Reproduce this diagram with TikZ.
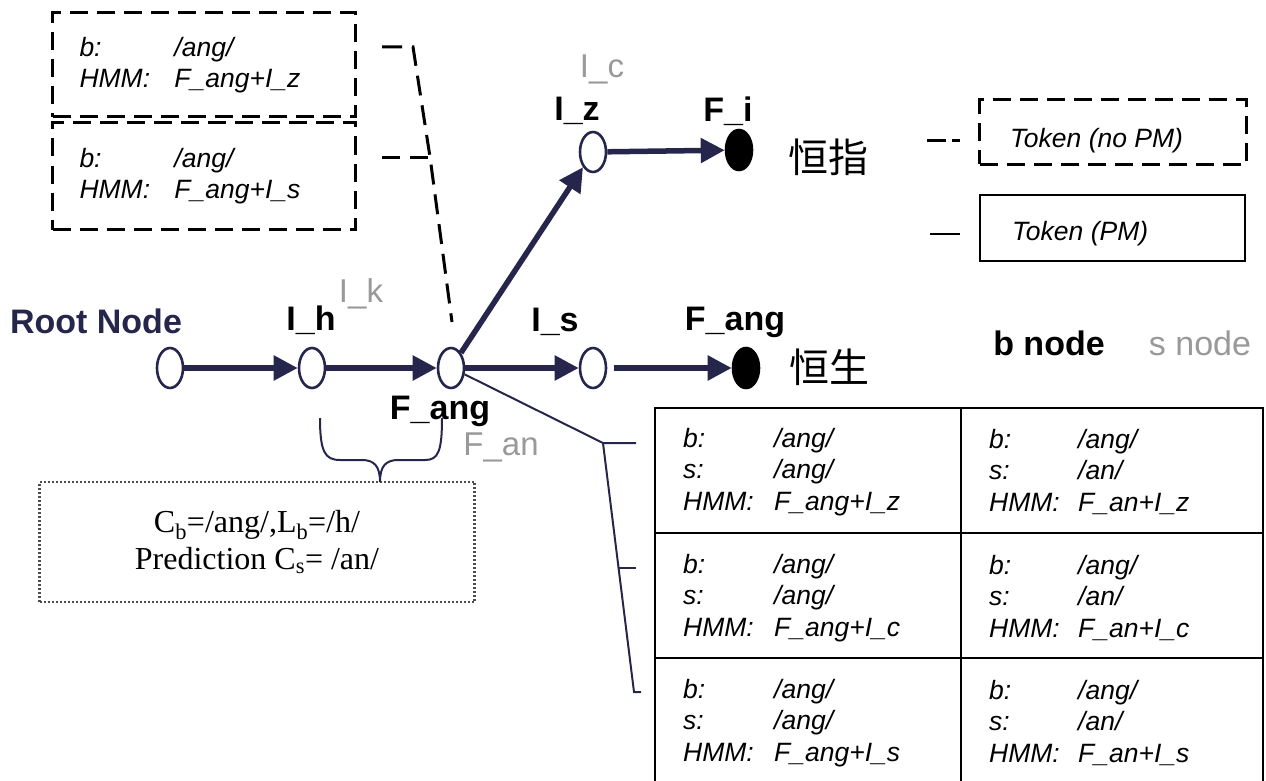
\documentclass[tikz,border=0pt]{standalone}
\usepackage{fontspec}
\setmainfont{Liberation Serif}
\setsansfont{Liberation Sans}
\newfontfamily\cjk{Noto Sans CJK SC}
\usepackage{tikz}
\usetikzlibrary{arrows.meta,shapes.geometric}
\definecolor{ink}{rgb}{0.15,0.15,0.3}
\definecolor{faint}{gray}{0.6}
\newcommand{\tokrow}[3][91pt]{\makebox[#1][l]{#2}#3}

\begin{document}
\begin{tikzpicture}[x=1pt,y=-1pt,
state/.style={ellipse,draw=ink,line width=2.6pt,minimum width=26pt,minimum height=40pt,inner sep=0pt},
final/.style={state,draw=black,fill=black},
blab/.style={font=\sffamily\bfseries\fontsize{34}{40}\selectfont,inner sep=0pt},
glab/.style={font=\sffamily\fontsize{33}{40}\selectfont,text=faint,inner sep=0pt},
walk/.style={draw=ink,line width=5.5pt,-{Triangle[length=24pt,width=24pt]}},
tok/.style={font=\sffamily\itshape\fontsize{26.5}{31.5}\selectfont,align=left,inner sep=0pt},
nopm/.style={draw,line width=3pt,dash pattern=on 18pt off 9pt},
hanzi/.style={font=\cjk\fontsize{40}{40}\selectfont,inner sep=0pt}]
\useasboundingbox (0,0) rectangle (1266,781);
% lattice
\node[state] (root) at (170,368) {};
\node[state] (ih) at (312,368) {};
\node[state] (fang) at (451,368) {};
\node[state] (is) at (593,368) {};
\node[state] (iz) at (593,152) {};
\node[final] (fi) at (739,150) {};
\node[final] (fend) at (746,368) {};
\draw[walk] (root) -- (ih);
\draw[walk] (ih) -- (fang);
\draw[walk] (fang) -- (is);
\draw[walk,shorten <=7pt] (is) -- (fend);
\draw[walk] (fang) -- (iz);
\draw[walk] (iz) -- (fi);
% labels
\node[blab,text=ink] (rootlab) at (96,321) {Root Node};
\node[blab] (ihlab) at (311,320) {I\_h};
\node[glab] (iklab) at (361,294) {I\_k};
\node[blab] (fanglab) at (440,411) {F\_ang};
\node[glab] (fanlab) at (501,447) {F\_an};
\node[blab] (islab) at (555,322) {I\_s};
\node[blab] (fendlab) at (735,322) {F\_ang};
\node[blab] (izlab) at (577,111) {I\_z};
\node[glab] (iclab) at (602,69) {I\_c};
\node[blab] (filab) at (728,111) {F\_i};
\node[hanzi] (hzhi) at (828,157) {恒指};
\node[hanzi] (hsheng) at (829,367) {恒生};
% tokens without PM
\node[tok,nopm,minimum width=303pt,minimum height=104pt,text width=249pt,inner xsep=27pt] (tokz) at (204,65)
  {\tokrow[95pt]{b:}{/ang/}\\\tokrow[95pt]{HMM:}{F\_ang+I\_z}};
\node[tok,nopm,minimum width=303pt,minimum height=107pt,text width=249pt,inner xsep=27pt] (toks) at (204,176)
  {\tokrow[95pt]{b:}{/ang/}\\\tokrow[95pt]{HMM:}{F\_ang+I\_s}};
\coordinate (ja) at (413,47);
\coordinate (jb) at (430,157);
\coordinate (jc) at (452,322);
\draw[line width=3pt,dash pattern=on 20pt off 10pt] ([shift={(25,-18)}]tokz.east) -- (ja) -- (jb) -- (jc);
\draw[line width=3pt,dash pattern=on 18pt off 10pt] ([shift={(25,-19)}]toks.east) -- (jb);
% legend
\node[nopm,minimum width=267pt,minimum height=64pt] (legnopm) at (1113,132) {};
\node[tok,anchor=west] (legnopmtxt) at (1010,141) {Token (no PM)};
\node[draw,line width=2pt,minimum width=265pt,minimum height=66pt] (legpm) at (1112,228) {};
\node[tok,anchor=west] (legpmtxt) at (1012,234) {Token (PM)};
\draw[line width=3pt] (927,141) -- (946,141) (952,141) -- (960,141);
\draw[line width=2pt] (930,234) -- (960,234);
\node[blab] (bnode) at (1049,343) {b node};
\node[glab,font=\sffamily\fontsize{34}{40}\selectfont] (snode) at (1200,343) {s node};
% prediction
\node[draw=black!70,line width=2.2pt,dash pattern=on 2pt off 2pt,minimum width=435pt,minimum height=120pt,
  font=\fontsize{32}{37}\selectfont,align=center] (pred) at (257,542)
  {C\textsubscript{b}=/ang/,L\textsubscript{b}=/h/\\Prediction C\textsubscript{s}= /an/};
\draw[ink,line width=2pt] (320,418) .. controls (320,452) and (325,460) .. (340,460) -- (362,460)
  .. controls (374,460) and (380,466) .. (380,482)
  .. controls (380,466) and (386,460) .. (398,460) -- (425,460)
  .. controls (438,460) and (442,452) .. (442,418);
% tokens with PM
\draw[line width=2.2pt] (655,781) -- (655,408) -- (1263,408) -- (1263,781);
\draw[line width=2.2pt] (961,408) -- (961,781);
\draw[line width=2.2pt] (655,533) -- (1263,533) (655,658) -- (1263,658);
\node[tok,anchor=west] (c11) at (683,472) {\tokrow{b:}{/ang/}\\\tokrow{s:}{/ang/}\\\tokrow{HMM:}{F\_ang+I\_z}};
\node[tok,anchor=west] (c12) at (989,472) {\tokrow[89pt]{b:}{/ang/}\\\tokrow[89pt]{s:}{/an/}\\\tokrow[89pt]{HMM:}{F\_an+I\_z}};
\node[tok,anchor=west] (c21) at (683,598) {\tokrow{b:}{/ang/}\\\tokrow{s:}{/ang/}\\\tokrow{HMM:}{F\_ang+I\_c}};
\node[tok,anchor=west] (c22) at (989,598) {\tokrow[89pt]{b:}{/ang/}\\\tokrow[89pt]{s:}{/an/}\\\tokrow[89pt]{HMM:}{F\_an+I\_c}};
\node[tok,anchor=west] (c31) at (683,723) {\tokrow{b:}{/ang/}\\\tokrow{s:}{/ang/}\\\tokrow{HMM:}{F\_ang+I\_s}};
\node[tok,anchor=west] (c32) at (989,723) {\tokrow[89pt]{b:}{/ang/}\\\tokrow[89pt]{s:}{/an/}\\\tokrow[89pt]{HMM:}{F\_an+I\_s}};
\coordinate (brk) at (603,443);
\draw[ink,line width=2pt] (fang.-25) -- (brk) -- (636,443);
\draw[ink,line width=2pt] (brk) -- (634,692) -- (641,692);
\draw[ink,line width=2pt] (619,568) -- (636,568);
\end{tikzpicture}
\end{document}
